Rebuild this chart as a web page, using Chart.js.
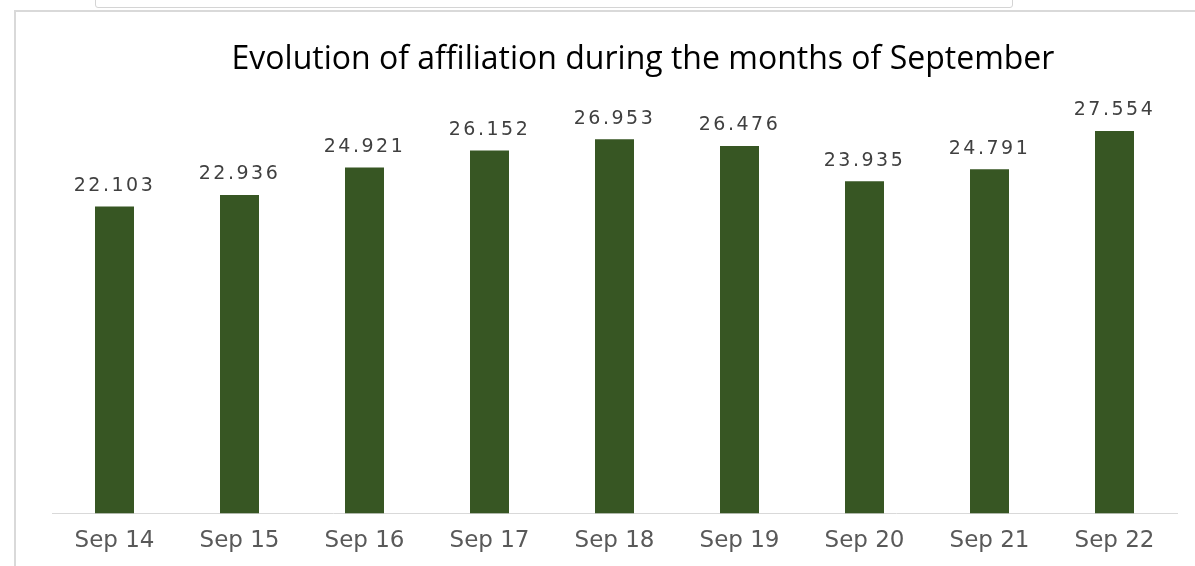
<!DOCTYPE html>
<html>
<head>
<meta charset="utf-8">
<script src="https://cdn.jsdelivr.net/npm/chart.js@4"></script>
<style>
  html, body { margin: 0; padding: 0; background: #fff; }
  body { width: 1195px; height: 566px; position: relative; overflow: hidden; }
  .topbox { position: absolute; left: 95px; top: -4px; width: 916px; height: 10px;
    border: 1px solid #d4d4d4; border-radius: 0 0 3px 3px; }
  .frame { position: absolute; left: 14px; top: 10px; width: 1300px; height: 700px;
    border-left: 2px solid #d9d9d9; border-top: 2px solid #d9d9d9; }
  #chart { position: absolute; left: 0; top: 0; }
</style>
</head>
<body>
<div class="topbox"></div>
<div class="frame"></div>
<canvas id="chart" width="1195" height="566"></canvas>
<script>
const chartTitle = 'Evolution of affiliation during the months of September';
const months = ['Sep 14', 'Sep 15', 'Sep 16', 'Sep 17', 'Sep 18', 'Sep 19', 'Sep 20', 'Sep 21', 'Sep 22'];
const affiliation = [22.103, 22.936, 24.921, 26.152, 26.953, 26.476, 23.935, 24.791, 27.554];
const labelTexts = ['22.103', '22.936', '24.921', '26.152', '26.953', '26.476', '23.935', '24.791', '27.554'];

// value above each bar + the title (centred a bit right of the plot, like the original)
const valueLabels = {
  id: 'valueLabels',
  afterDatasetsDraw(chart) {
    const ctx = chart.ctx;
    const meta = chart.getDatasetMeta(0);
    ctx.save();
    ctx.font = '19px "DejaVu Sans"';
    ctx.fillStyle = '#404040';
    ctx.textAlign = 'center';
    ctx.textBaseline = 'bottom';
    if ('letterSpacing' in ctx) ctx.letterSpacing = '2.5px';
    meta.data.forEach((bar, i) => {
      ctx.fillText(labelTexts[i], bar.x, bar.y - 11);
    });
    if ('letterSpacing' in ctx) ctx.letterSpacing = '0px';
    ctx.font = '32px "Open Sans"';
    ctx.fillStyle = '#000';
    ctx.textBaseline = 'middle';
    ctx.fillText(chartTitle, 643, 60);
    ctx.restore();
  }
};

new Chart(document.getElementById('chart'), {
  type: 'bar',
  data: {
    labels: months,
    datasets: [{
      data: affiliation,
      backgroundColor: '#375623',
      barPercentage: 0.312,
      categoryPercentage: 1
    }]
  },
  options: {
    responsive: false,
    animation: false,
    layout: { padding: { left: 52, right: 18, top: 97, bottom: -3 } },
    plugins: {
      legend: { display: false },
      tooltip: { enabled: false },
      title: { display: false }
    },
    scales: {
      x: {
        grid: { display: false, drawTicks: false },
        border: { display: true, color: '#d9d9d9', width: 1 },
        ticks: { color: '#595959', font: { family: '"DejaVu Sans"', size: 23 }, padding: 14 }
      },
      y: {
        display: false,
        min: 0,
        max: 30
      }
    }
  },
  plugins: [valueLabels]
});
</script>
</body>
</html>
